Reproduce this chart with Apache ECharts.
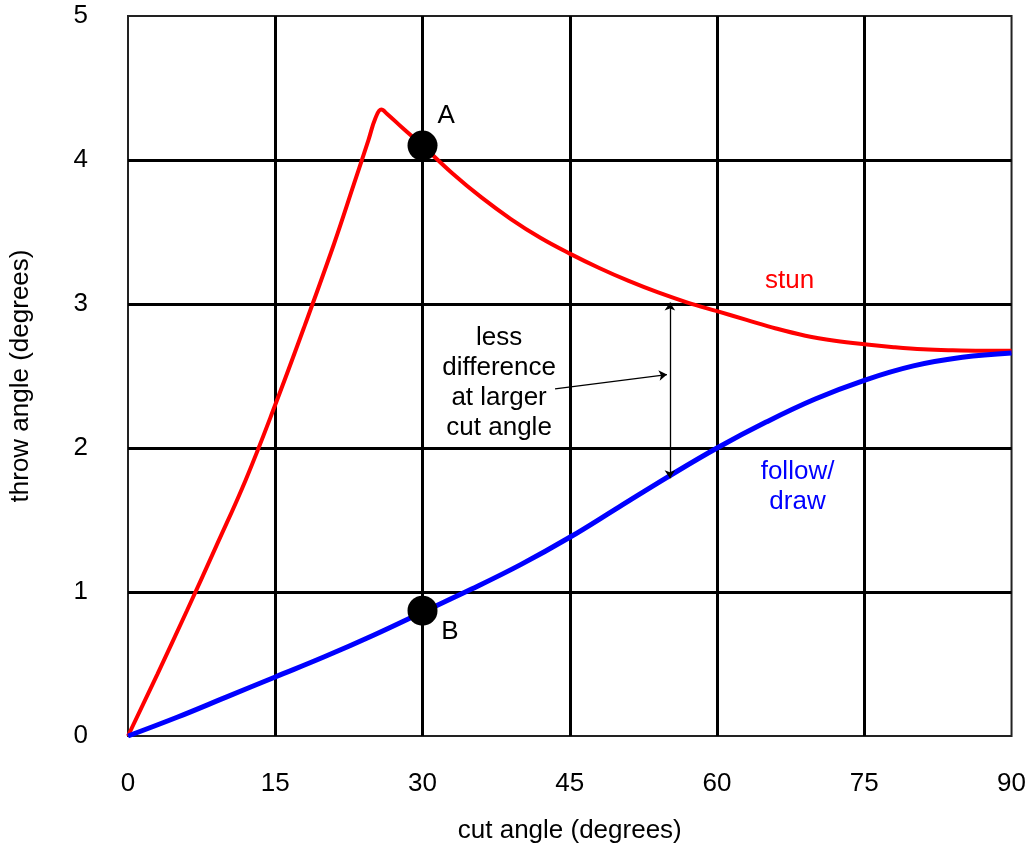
<!DOCTYPE html>
<html>
<head>
<meta charset="utf-8">
<script src="https://cdn.jsdelivr.net/npm/echarts@6/dist/echarts.min.js"></script>
<style>
  html, body { margin: 0; padding: 0; background: #fff; }
  #main { width: 1029px; height: 852px; }
</style>
</head>
<body>
<div id="main"></div>
<script>
// cut angle (deg) / throw angle (deg)
const stun = [
  [0, 0], [3, 0.43], [6, 0.87], [9, 1.32], [12, 1.78], [15, 2.3], [18, 2.85],
  [21, 3.42], [23, 3.83], [24.5, 4.14], [25.2, 4.29], [25.8, 4.35], [26.4, 4.32],
  [28, 4.22], [30, 4.1], [33, 3.91], [36, 3.74], [39, 3.59], [42, 3.46], [45, 3.35],
  [48, 3.25], [51, 3.16], [54, 3.08], [57, 3.01], [60, 2.95], [63, 2.89], [66, 2.83],
  [69, 2.78], [72, 2.745], [75, 2.72], [78, 2.70], [81, 2.685], [84, 2.678],
  [87, 2.675], [90, 2.675]
];
const followDraw = [
  [0, 0], [5, 0.13], [10, 0.27], [15, 0.41], [20, 0.55], [25, 0.7], [30, 0.86],
  [35, 1.02], [40, 1.19], [45, 1.38], [50, 1.59], [55, 1.8], [60, 2.0], [65, 2.18],
  [70, 2.34], [75, 2.47], [80, 2.57], [85, 2.63], [90, 2.66]
];
const points = [[30, 4.1], [30, 0.87]];        // A, B
const gapArrow = [[55.2, 3.01], [55.2, 1.79]];
const noteArrow = [[43.5, 2.41], [54.9, 2.51]];

const blackNotes = [
  { value: [32.4, 4.31], text: 'A' },
  { value: [32.8, 0.72], text: 'B' },
  { value: [37.8, 2.455], text: 'less\ndifference\nat larger\ncut angle' }
];
const redNotes = [{ value: [67.4, 3.16], text: 'stun' }];
const blueNotes = [{ value: [68.2, 1.73], text: 'follow/\ndraw' }];

const FONT = 'Liberation Sans, Arial, sans-serif';

function noteSeries(list, color) {
  return {
    type: 'scatter',
    data: list.map(d => ({ value: d.value, name: d.text })),
    symbolSize: 1,
    itemStyle: { color: 'transparent', opacity: 1 },
    silent: true,
    z: 6,
    label: {
      show: true,
      position: 'inside',
      formatter: p => p.name,
      color: color,
      opacity: 1,
      fontSize: 26,
      lineHeight: 30,
      fontFamily: FONT,
      align: 'center',
      verticalAlign: 'middle'
    }
  };
}

const chart = echarts.init(document.getElementById('main'), null, { renderer: 'canvas' });

chart.setOption({
  backgroundColor: '#fff',
  animation: false,
  grid: {
    left: 127, right: 14, top: 16, bottom: 116,
    show: true, borderColor: '#222', borderWidth: 2, backgroundColor: 'transparent'
  },
  xAxis: {
    type: 'value', min: 0, max: 90, interval: 15,
    name: 'cut angle (degrees)', nameLocation: 'middle', nameGap: 82,
    nameTextStyle: { fontSize: 26, color: '#000', fontFamily: FONT },
    axisLine: { show: false },
    axisTick: { show: false },
    axisLabel: { fontSize: 26, color: '#000', margin: 35, fontFamily: FONT },
    splitLine: { show: true, showMinLine: false, showMaxLine: false, lineStyle: { color: '#000', width: 3 } }
  },
  yAxis: {
    type: 'value', min: 0, max: 5, interval: 1,
    name: 'throw angle (degrees)', nameLocation: 'middle', nameGap: 94,
    nameTextStyle: { fontSize: 26, color: '#000', fontFamily: FONT },
    axisLine: { show: false },
    axisTick: { show: false },
    axisLabel: { fontSize: 26, color: '#000', margin: 40, fontFamily: FONT },
    splitLine: { show: true, showMinLine: false, showMaxLine: false, lineStyle: { color: '#000', width: 3 } }
  },
  series: [
    {
      name: 'stun', type: 'line', data: stun, smooth: 0.4, showSymbol: false,
      lineStyle: { color: '#ff0000', width: 4 }, z: 3
    },
    {
      name: 'follow/draw', type: 'line', data: followDraw, smooth: 0.4, showSymbol: false,
      lineStyle: { color: '#0000ff', width: 5 }, z: 3
    },
    {
      type: 'lines', coordinateSystem: 'cartesian2d', silent: true, z: 4,
      symbol: ['arrow', 'arrow'], symbolSize: 8,
      lineStyle: { color: '#000', width: 1.3, opacity: 1 },
      data: [{ coords: gapArrow }]
    },
    {
      type: 'lines', coordinateSystem: 'cartesian2d', silent: true, z: 4,
      symbol: ['none', 'arrow'], symbolSize: 8,
      lineStyle: { color: '#000', width: 1.3, opacity: 1 },
      data: [{ coords: noteArrow }]
    },
    {
      type: 'scatter', data: points, symbolSize: 30, z: 5,
      itemStyle: { color: '#000', opacity: 1 }
    },
    noteSeries(blackNotes, '#000'),
    noteSeries(redNotes, '#ff0000'),
    noteSeries(blueNotes, '#0000ff')
  ]
});
</script>
</body>
</html>
